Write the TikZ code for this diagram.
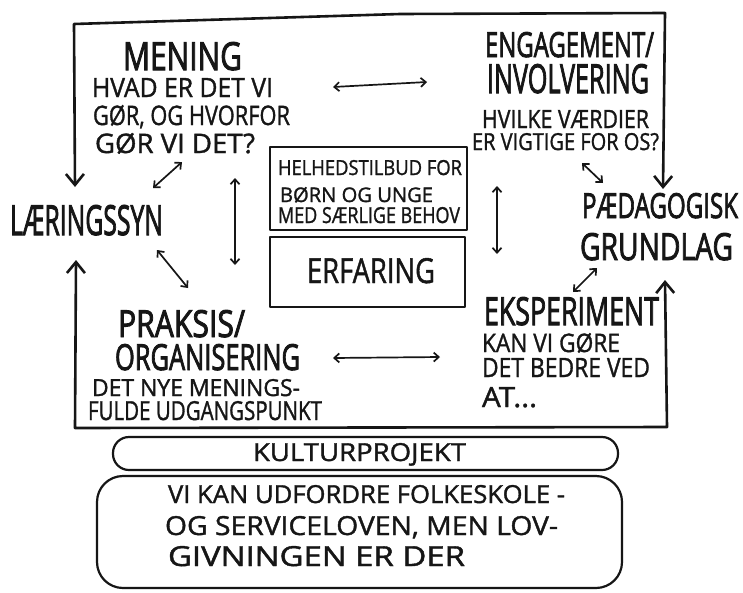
\documentclass[tikz,border=0pt]{standalone}
\usepackage{fontspec}
\setmainfont{Open Sans}
\newfontfamily\bodyfont{Open Sans}[FakeBold=1.4]
\newfontfamily\headfont{Open Sans}[FakeBold=2.6]
\usepackage{graphicx}
\usetikzlibrary{arrows.meta}
\definecolor{inkc}{HTML}{161616}
% one line of lettering, stretched to a given width and cap height (pt)
\newcommand\fitline[3]{\resizebox{#1pt}{#2pt}{\bodyfont #3}}
\newcommand\fithead[3]{\resizebox{#1pt}{#2pt}{\headfont #3}}

\begin{document}
\begin{tikzpicture}[x=1pt,y=-1pt,
  ink/.style={draw=inkc, line cap=round, line join=round},
  frame/.style={ink, line width=2.6pt},
  boxline/.style={ink, line width=2.2pt},
  frametips/.style={frame, {Straight Barb[length=11pt,width=18pt]}-{Straight Barb[length=11pt,width=18pt]}},
  link/.style={ink, line width=1.7pt, {Straight Barb[length=5pt,width=9pt]}-{Straight Barb[length=5pt,width=9pt]}},
  lbl/.style={inner sep=0pt, outer sep=0pt, anchor=base west, text=inkc},
]
\useasboundingbox (0,0) rectangle (743,592);
\fill[white] (0,0) rectangle (743,592);

% ---- outer frame, feeding into the two side labels
\coordinate (tl) at (74,24);
\coordinate (tm) at (400,14);
\coordinate (tr) at (665,13);
\coordinate (bl) at (75,428);
\coordinate (br) at (667,427);
\coordinate (lDown) at (75,187);
\coordinate (lUp) at (76,260);
\coordinate (rDown) at (663,189);
\coordinate (rUp) at (665,280);
\draw[frametips] (lDown) -- (tl) -- (tm) -- (tr) -- (rDown);
\draw[frametips] (lUp) -- (bl) -- (br) -- (rUp);

% ---- MENING
\node[lbl] (mening) at (123,70) {\fithead{119}{28}{MENING}};
\node[lbl] (mq1) at (92,97)  {\fitline{181}{19}{HVAD ER DET VI}};
\node[lbl] (mq2) at (93,125) {\fitline{197}{20}{GØR, OG HVORFOR}};
\node[lbl] (mq3) at (95,153) {\fitline{160}{20}{GØR VI DET?}};

% ---- ENGAGEMENT / INVOLVERING
\node[lbl] (eng1) at (485,57)  {\fithead{169}{25}{ENGAGEMENT/}};
\node[lbl] (eng2) at (487,93)  {\fithead{162}{29}{INVOLVERING}};
\node[lbl] (eq1)  at (482,128) {\fitline{167}{18}{HVILKE VÆRDIER}};
\node[lbl] (eq2)  at (472,150) {\fitline{187}{17}{ER VIGTIGE FOR OS?}};

% ---- side labels
\node[lbl] (laering) at (10,235) {\fithead{153}{30}{LÆRINGSSYN}};
\node[lbl] (paed1) at (582,218) {\fithead{156}{25}{PÆDAGOGISK}};
\node[lbl] (paed2) at (580,260) {\fithead{153}{27}{GRUNDLAG}};

% ---- centre boxes
\draw[boxline] (270,147) -- (467,147) -- (467,230) -- (270,230) -- cycle;
\node[lbl] (h1) at (278,175) {\fitline{184}{15}{HELHEDSTILBUD FOR}};
\node[lbl] (h2) at (280,202) {\fitline{153}{15}{BØRN OG UNGE}};
\node[lbl] (h3) at (278,223) {\fitline{182}{16}{MED SÆRLIGE BEHOV}};
\draw[boxline] (270,237) -- (465,237) -- (465,307) -- (270,307) -- cycle;
\node[lbl] (erfaring) at (307,283) {\fitline{128}{25}{ERFARING}};

% ---- PRAKSIS / ORGANISERING
\node[lbl] (prak1) at (118,337) {\fithead{127}{27}{PRAKSIS/}};
\node[lbl] (prak2) at (115,370) {\fithead{185}{26}{ORGANISERING}};
\node[lbl] (pq1) at (92,396)  {\fitline{208}{17}{DET NYE MENINGS-}};
\node[lbl] (pq2) at (88,420)  {\fitline{234}{19}{FULDE UDGANGSPUNKT}};

% ---- EKSPERIMENT
\node[lbl] (eks) at (484,325) {\fithead{175}{28}{EKSPERIMENT}};
\node[lbl] (kq1) at (482,352) {\fitline{138}{19}{KAN VI GØRE}};
\node[lbl] (kq2) at (482,377) {\fitline{168}{19}{DET BEDRE VED}};
\node[lbl] (kq3) at (482,407) {\fitline{55}{20}{AT...}};

% ---- two-way links
\coordinate (a1) at (333,87);  \coordinate (b1) at (427,82);
\coordinate (a2) at (153,188); \coordinate (b2) at (182,162);
\coordinate (a3) at (235,178); \coordinate (b3) at (235,265);
\coordinate (a4) at (157,250); \coordinate (b4) at (188,288);
\coordinate (a5) at (497,186); \coordinate (b5) at (497,254);
\coordinate (a6) at (582,163); \coordinate (b6) at (603,183);
\coordinate (a7) at (573,292); \coordinate (b7) at (597,268);
\coordinate (a8) at (333,358); \coordinate (b8) at (440,357);
\foreach \i in {1,...,8} { \draw[link] (a\i) -- (b\i); }

% ---- bottom: culture project and legislation
\draw[boxline, rounded corners=16pt] (113,437) rectangle (618,470);
\node[lbl] (kultur) at (253,461) {\fitline{213}{18}{KULTURPROJEKT}};
\draw[boxline, rounded corners=26pt] (97,476) rectangle (622,588);
\node[lbl] (lov1) at (168,503) {\fitline{397}{18}{VI KAN UDFORDRE FOLKESKOLE -}};
\node[lbl] (lov2) at (165,535) {\fitline{393}{19}{OG SERVICELOVEN, MEN LOV-}};
\node[lbl] (lov3) at (168,566) {\fitline{297}{20}{GIVNINGEN ER DER}};
\end{tikzpicture}
\end{document}
